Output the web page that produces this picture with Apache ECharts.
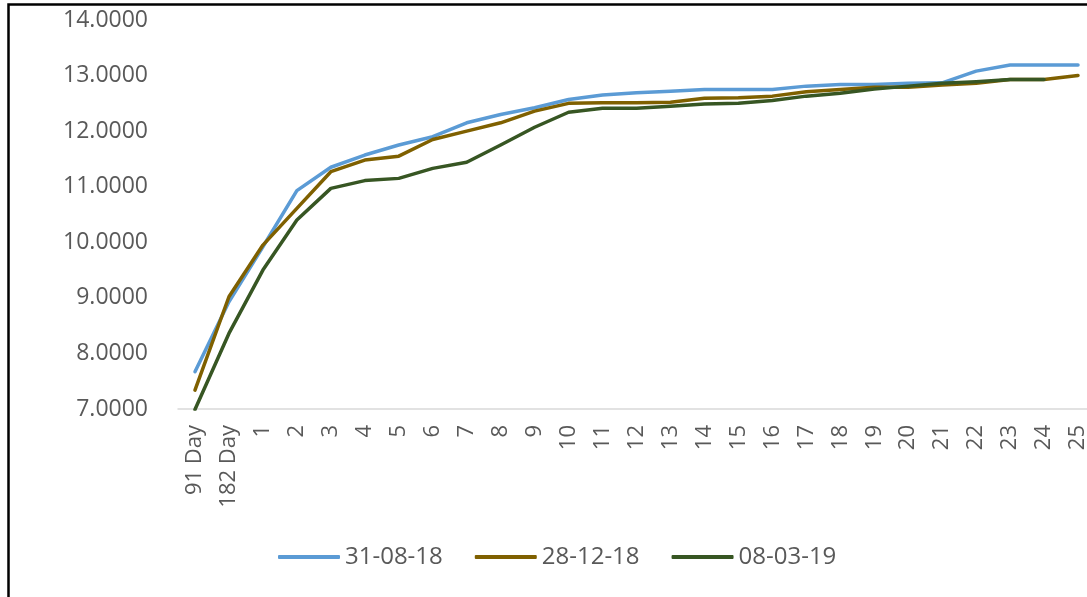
<!DOCTYPE html>
<html>
<head>
<meta charset="utf-8">
<script src="https://cdn.jsdelivr.net/npm/echarts@6/dist/echarts.min.js"></script>
<style>
  html, body { margin: 0; padding: 0; background: #fff; }
  #chart { width: 1087px; height: 597px; }
</style>
</head>
<body>
<div id="chart"></div>
<script>
// tenors on the x axis
const categories = ['91 Day', '182 Day', '1', '2', '3', '4', '5', '6', '7', '8', '9', '10',
  '11', '12', '13', '14', '15', '16', '17', '18', '19', '20', '21', '22', '23', '24', '25']

const seriesNames = ['31-08-18', '28-12-18', '08-03-19']

// yields
const yields310818 = [7.67, 8.93, 9.92, 10.93, 11.35, 11.57, 11.75, 11.90, 12.15, 12.30, 12.42, 12.57,
  12.65, 12.69, 12.72, 12.75, 12.75, 12.75, 12.81, 12.84, 12.84, 12.86, 12.87, 13.08, 13.19, 13.19, 13.19]
const yields281218 = [7.34, 9.02, 9.95, 10.61, 11.27, 11.48, 11.55, 11.85, 12.00, 12.15, 12.36, 12.50,
  12.51, 12.51, 12.52, 12.59, 12.60, 12.63, 12.71, 12.75, 12.79, 12.79, 12.83, 12.86, 12.93, 12.93, 13.00]
const yields080319 = [6.99, 8.36, 9.50, 10.40, 10.97, 11.11, 11.15, 11.33, 11.44, 11.75, 12.07, 12.34,
  12.41, 12.41, 12.45, 12.49, 12.50, 12.55, 12.63, 12.68, 12.76, 12.81, 12.86, 12.89, 12.93, 12.93, null]

const colors = ['#5B9BD5', '#7F6000', '#375623']
const textColor = '#595959'
const font = 'Open Sans'

const chart = echarts.init(document.getElementById('chart'))

const allData = [yields310818, yields281218, yields080319]

chart.setOption({
  animation: false,
  color: colors,
  graphic: [{
    type: 'rect',
    shape: { x: 8.5, y: 4.5, width: 1100, height: 620 },
    style: { fill: 'none', stroke: '#000', lineWidth: 2.5 },
    z: 100
  }],
  // the plot runs a little past the right edge of the picture
  grid: { left: 178, top: 20, width: 917, height: 389, outerBoundsMode: 'none', containLabel: false },
  legend: {
    left: 278,
    top: 545,
    padding: 0,
    icon: 'roundRect',
    itemWidth: 62,
    itemHeight: 4,
    itemGap: 32,
    textStyle: { color: textColor, fontSize: 24, fontFamily: font },
    data: seriesNames
  },
  xAxis: {
    type: 'category',
    data: categories,
    boundaryGap: true,
    axisLine: { lineStyle: { color: '#D9D9D9', width: 1.5 } },
    axisTick: { show: false },
    axisLabel: {
      rotate: 90,
      interval: 0,
      margin: 16,
      color: textColor,
      fontSize: 22,
      fontFamily: font
    }
  },
  yAxis: {
    type: 'value',
    min: 7,
    max: 14,
    interval: 1,
    axisLine: { show: false },
    axisTick: { show: false },
    splitLine: { show: false },
    axisLabel: {
      margin: 30,
      color: textColor,
      fontSize: 23,
      fontFamily: font,
      formatter: v => v.toFixed(4)
    }
  },
  series: seriesNames.map((name, i) => ({
    name: name,
    type: 'line',
    data: allData[i],
    symbol: 'none',
    lineStyle: { width: 3.5, color: colors[i], cap: 'round', join: 'round' }
  }))
})
</script>
</body>
</html>
